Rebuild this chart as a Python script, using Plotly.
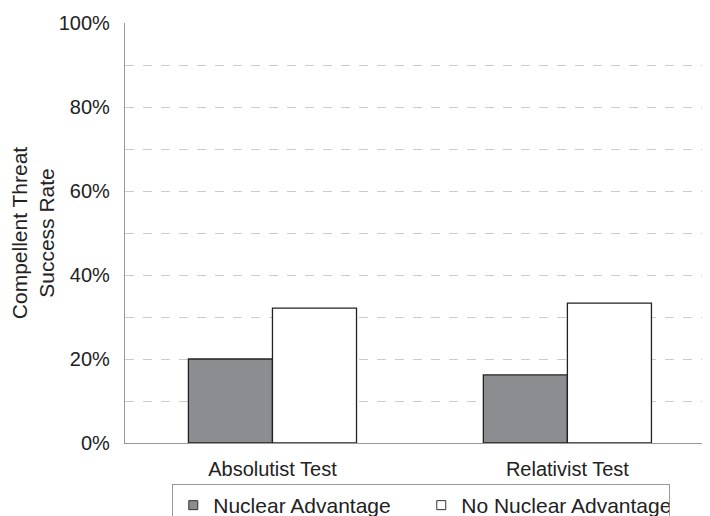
import plotly.graph_objects as go

categories = ["Absolutist Test", "Relativist Test"]
nuclear_adv = [20.0, 16.2]
no_nuclear_adv = [32.1, 33.3]
y_ticks = [0, 20, 40, 60, 80, 100]
y_tick_labels = ["0%", "20%", "40%", "60%", "80%", "100%"]
series_names = ["Nuclear Advantage", "No Nuclear Advantage"]
series_colors = ["#8c8d90", "#ffffff"]

fig = go.Figure()
for vals, name, col in zip([nuclear_adv, no_nuclear_adv], series_names, series_colors):
    fig.add_trace(go.Bar(
        x=categories, y=vals, name=name, showlegend=False,
        marker=dict(color=col, line=dict(color="#222222", width=1.3)),
    ))
    # legend swatch (small square, as in the reference)
    fig.add_trace(go.Scatter(
        x=[None], y=[None], mode="markers", name=name,
        marker=dict(symbol="square", size=9, color=col, line=dict(color="#333333", width=1)),
    ))

font_family = "Liberation Sans, Arial, sans-serif"

fig.update_layout(
    width=702, height=508,
    margin=dict(l=117, r=4, t=15, b=73),
    paper_bgcolor="white", plot_bgcolor="white",
    barmode="group", bargap=0.43, bargroupgap=0,
    font=dict(family=font_family, size=20, color="#222222"),
    showlegend=True,
    legend=dict(
        orientation="h", yref="container", xref="container",
        x=0.234, xanchor="left", y=0.063, yanchor="top",
        bordercolor="#999999", borderwidth=1, bgcolor="white",
        font=dict(size=21, color="#222222"),
        itemsizing="trace", itemwidth=30, entrywidth=203,
        tracegroupgap=0,
    ),
    xaxis=dict(
        range=[-0.5, 1.47], automargin=False,
        showgrid=False, showline=True, linecolor="#999999", linewidth=1.3,
        ticks="", tickfont=dict(size=20), ticklabelstandoff=8,
    ),
    yaxis=dict(
        range=[0, 100], automargin=False,
        tickvals=y_ticks, ticktext=y_tick_labels,
        showgrid=True, gridcolor="#cccccc", griddash="dash", gridwidth=1,
        showline=True, linecolor="#999999", linewidth=1.3,
        zeroline=False, ticks="", tickfont=dict(size=20),
        ticklabelstandoff=10,
        minor=dict(dtick=10, showgrid=True, gridcolor="#cccccc", griddash="dash", gridwidth=1),
        title=dict(text="Compellent Threat<br>Success Rate", font=dict(size=21)),
    ),
)

fig.write_html("out.html")
